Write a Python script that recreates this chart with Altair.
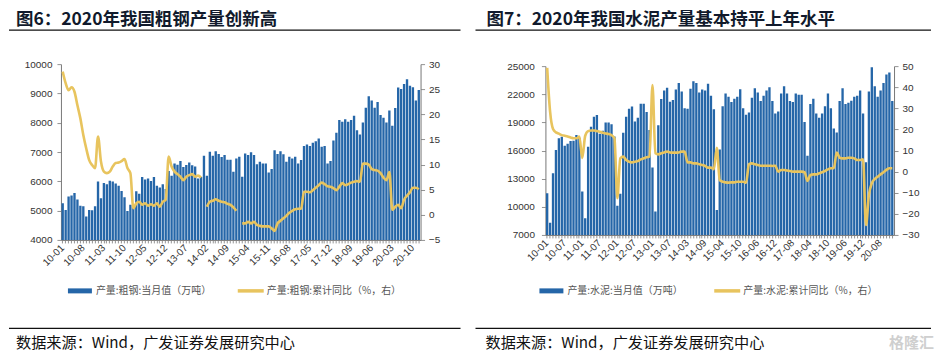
import json
import altair as alt
import pandas as pd

# ---------------- categories ----------------
steel_missing = ["16-01", "16-02", "17-01", "17-02", "18-01", "18-02", "19-01", "19-02", "20-01", "20-02"]
cement_missing = ["14-01", "14-02", "15-01", "16-01", "16-02", "17-01", "17-02", "18-01", "18-02",
                  "19-01", "19-02", "20-01", "20-02"]
all_months = [f"{y:02d}-{m:02d}" for y in range(10, 21) for m in range(1, 13)]
steel_months = [m for m in all_months if m not in steel_missing]
cement_months = [m for m in all_months if m not in cement_missing]

steel_ticks = ["10-01", "10-08", "11-03", "11-10", "12-05", "12-12", "13-07", "14-02", "14-09",
               "15-04", "15-11", "16-08", "17-05", "17-12", "18-09", "19-06", "20-03", "20-10"]
cement_ticks = ["10-01", "10-07", "11-01", "11-07", "12-01", "12-07", "13-01", "13-07", "14-03",
                "14-09", "15-04", "15-10", "16-06", "16-12", "17-08", "18-04", "18-10", "19-06",
                "19-12", "20-08"]

# ---------------- values ----------------
steel_output = [
    5250, 5020, 5480, 5520, 5600, 5380, 5170, 5150, 4800, 5020, 5010, 5150,
    5990, 5420, 5940, 5900, 6020, 5990, 5930, 5850, 5670, 5460, 4990, 5200,
    5210, 5660, 5580, 6150, 6060, 6100, 6010, 6150, 5850, 5790, 5900, 5740,
    6350, 6190, 6610, 6570, 6690, 6490, 6560, 6640, 6550, 6510, 6100, 6150,
    6870, 6190, 7010, 6870, 7030, 6930, 6830, 6900, 6740, 6740, 6330, 6780,
    6840, 6160, 6950, 6900, 6990, 6900, 6580, 6670, 6610, 6610, 6300, 6420,
    7060, 6930, 7030, 6920, 6670, 6840, 6780, 6840, 6610, 6730,
    7210, 7260, 7210, 7320, 7370, 7460, 7180, 7210, 6610, 6690,
    7390, 7660, 8090, 8030, 8120, 8030, 8090, 8240, 7740, 7600,
    8010, 8510, 8900, 8760, 8510, 8710, 8260, 8170, 8010, 8420,
    7900, 8500, 9200, 9150, 9320, 9480, 9260, 9210, 8760, 9120,
]
steel_yoy = [
    28.5, 26.2, 24.8, 25.4, 24.5, 21.8, 19.2, 15.9, 13.2, 10.9, 9.9, 9.3,
    15.6, 10.6, 8.6, 8.3, 8.6, 9.6, 10.3, 10.4, 10.7, 11.1, 9.3, 8.3,
    1.3, 2.3, 2.6, 2.0, 2.3, 1.8, 2.1, 1.8, 2.3, 1.6, 2.6, 3.0,
    11.6, 9.6, 8.6, 8.1, 7.6, 6.9, 7.6, 7.9, 8.1, 7.6, 7.8, 7.4,
    None, 1.6, 2.6, 2.8, 3.1, 2.8, 2.6, 2.5, 2.2, 2.0, 1.5, 0.8,
    None, -1.7, -1.7, -1.4, -1.7, -1.4, -2.0, -2.2, -2.3, -2.3, -2.3, -2.7,
    -3.2, -1.7, -1.2, -0.7, -0.2, 0.4, 0.8, 1.1, 1.2, 1.2,
    4.6, 4.6, 4.5, 4.9, 5.4, 5.9, 6.4, 6.1, 5.7, 5.6,
    5.3, 4.9, 5.6, 6.3, 5.9, 6.1, 6.4, 6.6, 6.7, 6.6,
    10.2, 10.2, 10.0, 9.1, 8.9, 8.8, 8.3, 7.4, 6.9, 8.5,
    1.0, 1.6, 2.0, 1.3, 3.0, 3.8, 4.5, 5.4, 5.4, 5.1,
]
cement_output = [
    11440, 8310, 13570, 16050, 17300, 17470, 16510, 16730, 17010, 17050, 17650, 17370,
    11620, 8780, 16410, 18540, 19600, 19780, 17800, 18100, 19000, 19000, 18800, 17500,
    10100, 11400, 17900, 19600, 20450, 20700, 19100, 19500, 21000, 21000, 20100, 18200,
    14200, 9500, 18700, 21500, 22400, 22700, 21200, 21400, 22500, 23200, 22300, 20500,
    20450, 22600, 23400, 23200, 22200, 22500, 22400, 23130, 21850, 20390,
    9660, 16110, 20730, 22080, 21740, 21180, 21510, 21740, 22530, 20500, 19820,
    20050, 21630, 22640, 22190, 21290, 21850, 22410, 22750, 21290, 19940,
    20160, 22080, 22860, 22080, 21290, 21180, 22080, 21960, 21960, 19040,
    15440, 20950, 21510, 19940, 19490, 19940, 20730, 22080, 20500, 18360,
    17910, 21290, 22640, 20950, 21100, 21300, 21740, 21850, 22410, 19940,
    14760, 22300, 24890, 22860, 21740, 22410, 23200, 24100, 24320, 21290,
]
cement_yoy = [
    49.2, 28.4, 20.2, 18.6, 18.0, 17.3, 17.0, 16.7, 16.2, 15.8, 15.8, 16.6,
    6.5, 17.0, 19.2, 19.5, 19.5, 19.2, 18.9, 18.4, 18.1, 17.8, 17.3, 15.8,
    -12.6, 6.3, 7.1, 5.5, 4.7, 4.4, 4.7, 5.0, 5.8, 6.3, 6.8, 7.1,
    41.0, 8.7, 8.2, 8.7, 9.1, 9.5, 9.1, 9.0, 9.0, 9.1, 9.5, 9.5,
    4.4, 4.4, 3.9, 3.9, 3.5, 3.1, 2.7, 1.9, 1.9, 1.2,
    11.3, -4.0, -4.8, -5.1, -5.2, -5.1, -5.1, -4.8, -4.8, -4.8, -5.2,
    3.5, 3.9, 3.5, 3.1, 2.8, 2.8, 2.8, 2.8, 2.7, 2.8,
    0.0, 0.8, 0.8, 0.5, 0.3, 0.0, 0.0, 0.0, 0.0, -0.3,
    -4.4, -1.6, -1.3, -1.3, -0.8, -0.3, 0.3, 1.1, 1.6, 1.6,
    9.1, 6.6, 6.3, 6.3, 6.6, 6.6, 6.3, 5.5, 5.5, 5.8,
    -25.3, -11.1, -5.5, -3.5, -2.4, -1.3, -0.3, 0.8, 1.6, 1.6,
]

steel_left_ticks = [4000, 5000, 6000, 7000, 8000, 9000, 10000]
steel_right_ticks = [-5, 0, 5, 10, 15, 20, 25, 30]
cement_left_ticks = [7000, 10000, 13000, 16000, 19000, 22000, 25000]
cement_right_ticks = [-30, -20, -10, 0, 10, 20, 30, 40, 50]

BLUE = "#2566a8"
YELLOW = "#E8C45E"
CJK = "Noto Sans CJK SC"
LATIN = "Liberation Sans"


def build_df(months, output, yoy):
    seg, segs = 0, []
    for v in yoy:
        if v is None:
            seg += 1
        segs.append(seg)
    return pd.DataFrame({"m": months, "v": output, "r": yoy, "seg": segs})


def text_layer(txt, x, y, size, color, weight="normal", font=CJK):
    return alt.Chart(pd.DataFrame({"t": [txt]})).mark_text(
        align="left", baseline="middle", fontSize=size, font=font,
        fontWeight=weight, color=color
    ).encode(x=alt.value(x), y=alt.value(y), text="t:N")


def rule_layer(x1, x2, y, color, width):
    return alt.Chart(pd.DataFrame({"a": [0]})).mark_rule(
        color=color, strokeWidth=width
    ).encode(x=alt.value(x1), x2=alt.value(x2), y=alt.value(y))


def panel(df, ticks, ldom, lvals, rdom, rvals, w, h, yr, lpad, title, names, lg, xl, xr, tx, src_x):
    x = alt.X(
        "m:N", sort=None, title=None,
        scale=alt.Scale(paddingInner=0.2, paddingOuter=0.2),
        axis=alt.Axis(
            labelExpr="indexof(%s, datum.value) >= 0 ? datum.value : ''" % json.dumps(ticks),
            labelAngle=-45, labelAlign="right", labelBaseline="middle",
            labelOverlap=False, tickSize=3, labelPadding=3,
        ),
    )
    bars = alt.Chart(df).mark_bar(color=BLUE, clip=True).encode(
        x=x,
        y=alt.Y("v:Q", title=None,
                scale=alt.Scale(domain=ldom, nice=False, zero=False, range=yr),
                axis=alt.Axis(orient="left", values=lvals, format="d", grid=False,
                              tickSize=4, labelPadding=lpad)),
    )
    line = alt.Chart(df).transform_filter("isValid(datum.r)").mark_line(
        color=YELLOW, strokeWidth=2.6, interpolate="monotone"
    ).encode(
        x=x,
        y=alt.Y("r:Q", title=None,
                scale=alt.Scale(domain=rdom, nice=False, zero=False, range=yr),
                axis=alt.Axis(orient="right", values=rvals, grid=False,
                              tickSize=4, labelPadding=4)),
        detail="seg:N",
    )
    deco = [
        # invisible spacer fixing the top edge of the panel
        rule_layer(xl, xl + 10, -55.5, "#ffffff", 0.01),
        text_layer(title, tx, -44.5, 17.5, "#111a2c", weight="bold"),
        rule_layer(xl, xr, -34, "#111111", 1.2),
        rule_layer(lg[0], lg[0] + 24, 227, BLUE, 5),
        text_layer(names[0], lg[0] + 28, 227, 10, "#555555"),
        rule_layer(lg[1], lg[1] + 26, 227, YELLOW, 3.5),
        text_layer(names[1], lg[1] + 29, 227, 10, "#555555"),
        rule_layer(xl, xr, 264.5, "#111111", 1.2),
        text_layer("数据来源：Wind，广发证券发展研究中心", src_x, 279.5, 15.2, "#111111"),
    ]
    return alt.layer(bars, line, *deco).resolve_scale(y="independent").properties(width=w, height=h)


steel_df = build_df(steel_months, steel_output, steel_yoy)
cement_df = build_df(cement_months, cement_output, cement_yoy)

left = panel(
    steel_df, steel_ticks, [4000, 10000], steel_left_ticks, [-5, 30], steel_right_ticks,
    360, 176, [176, 0], 5,
    "图6：2020年我国粗钢产量创新高",
    ["产量:粗钢:当月值（万吨）", "产量:粗钢:累计同比（%，右）"],
    [7, 177], -52, 400, -45, -45,
)
right = panel(
    cement_df, cement_ticks, [7000, 25000], cement_left_ticks, [-30, 50], cement_right_ticks,
    349, 171, [171, 2], 7,
    "图7：2020年我国水泥产量基本持平上年水平",
    ["产量:水泥:当月值（万吨）", "产量:水泥:累计同比（%，右）"],
    [-6, 169], -70, 386, -59, -60,
)
right = alt.layer(
    right,
    text_layer("格隆汇", 344, 279.5, 15, "#cfcfcf", weight="bold"),
)

chart = alt.hconcat(left, right, spacing=13).properties(
    padding={"left": 0, "top": 0, "right": 0, "bottom": 0}
).configure_view(strokeWidth=0).configure_axis(
    labelFont=LATIN, labelFontSize=10, labelColor="#333333",
    domainColor="#777777", tickColor="#777777", domainWidth=1, tickWidth=0.8,
)

chart.save("out.html", embed_options={"renderer": "svg", "actions": False})
